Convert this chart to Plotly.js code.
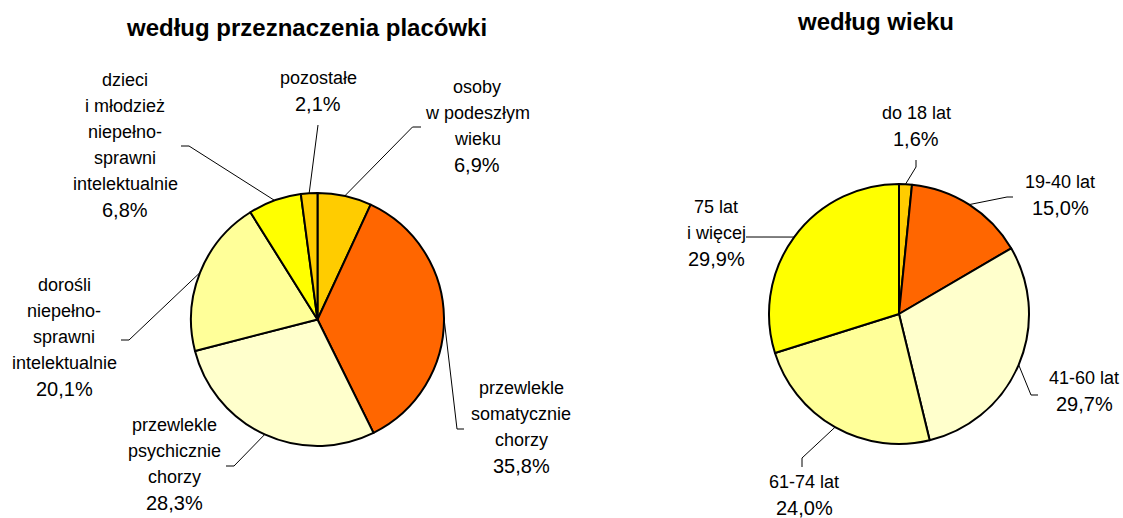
<!DOCTYPE html>
<html><head><meta charset="utf-8">
<script src="https://cdn.plot.ly/plotly-3.0.1.min.js"></script>
<style>html,body{margin:0;padding:0;background:#fff;} #chart{width:1123px;height:518px;}</style>
</head><body><div id="chart"></div>
<script>
// ---- data ----
const titles = ['według przeznaczenia placówki', 'według wieku'];
const facilityLabels = ['osoby\nw podeszłym\nwieku', 'przewlekle\nsomatycznie\nchorzy', 'przewlekle\npsychicznie\nchorzy', 'dorośli\nniepełno-\nsprawni\nintelektualnie', 'dzieci\ni młodzież\nniepełno-\nsprawni\nintelektualnie', 'pozostałe'];
const facilityValues = [6.9, 35.8, 28.3, 20.1, 6.8, 2.1];
const ageLabels = ['do 18 lat', '19-40 lat', '41-60 lat', '61-74 lat', '75 lat\ni więcej'];
const ageValues = [1.6, 15.0, 29.7, 24.0, 29.9];

// ---- styles / layout ----
const W = 1123, H = 518;
const facilityColors = ['#FFCC00', '#FF6600', '#FFFFCC', '#FFFF99', '#FFFF00', '#FFCC00'];
const ageColors = ['#FFCC00', '#FF6600', '#FFFFCC', '#FFFF99', '#FFFF00'];
const pies = [
  {cx: 317.5, cy: 319.5, r: 126.5, title: {x: 306, y: 27},
   labels: [
     {x: 477, y: 87, elbow: [412.5, 127], end: [421, 127]},
     {x: 521, y: 388, elbow: [457, 429], end: [464, 429]},
     {x: 174, y: 425, elbow: [234, 466], end: [226, 466]},
     {x: 64, y: 285, elbow: [129, 340], end: [121, 340]},
     {x: 125, y: 80, elbow: [189, 146], end: [181, 146]},
     {x: 318, y: 78, elbow: null, end: [318, 125]}
   ]},
  {cx: 899, cy: 314, r: 130, title: {x: 875, y: 21},
   labels: [
     {x: 916, y: 113, elbow: [916, 167], end: [916, 160]},
     {x: 1060, y: 182, elbow: [1007, 197], end: [1013, 197]},
     {x: 1084, y: 378, elbow: [1031, 395], end: [1038, 395]},
     {x: 804, y: 482, elbow: [802, 458], end: [802, 467]},
     {x: 716, y: 207, elbow: [750, 237], end: [746, 237]}
   ]}
];
const FONT = 'Liberation Sans, Arial, sans-serif';
const LINE_H = 26;

const px = x => x / W;
const py = y => 1 - y / H;
const fmt = v => v.toFixed(1).replace('.', ',') + '%';

const series = [
  {labels: facilityLabels, values: facilityValues, colors: facilityColors},
  {labels: ageLabels, values: ageValues, colors: ageColors}
];

const data = [], annotations = [], shapes = [];
series.forEach((s, k) => {
  const p = pies[k];
  data.push({
    type: 'pie',
    labels: s.labels.map(l => l.replace(/\n/g, ' ')),
    values: s.values,
    sort: false,
    direction: 'clockwise',
    rotation: 0,
    textinfo: 'none',
    hoverinfo: 'label+value',
    marker: {colors: s.colors, line: {color: '#000000', width: 2}},
    domain: {x: [px(p.cx - p.r), px(p.cx + p.r)], y: [py(p.cy + p.r), py(p.cy - p.r)]},
    showlegend: false
  });
  annotations.push({
    text: '<b>' + titles[k] + '</b>', xref: 'paper', yref: 'paper',
    x: px(p.title.x), y: py(p.title.y), xanchor: 'center', yanchor: 'middle',
    showarrow: false, font: {family: FONT, size: 24, color: '#000'}
  });
  const total = s.values.reduce((a, b) => a + b, 0);
  let cum = 0;
  s.values.forEach((v, i) => {
    const mid = (cum + v / 2) / total * 2 * Math.PI;
    cum += v;
    const sx = p.cx + p.r * Math.sin(mid), sy = p.cy - p.r * Math.cos(mid);
    const L = p.labels[i];
    const lineStyle = {color: '#000000', width: 1};
    if (L.elbow) {
      shapes.push({type: 'line', xref: 'paper', yref: 'paper', x0: px(sx), y0: py(sy), x1: px(L.elbow[0]), y1: py(L.elbow[1]), line: lineStyle});
      shapes.push({type: 'line', xref: 'paper', yref: 'paper', x0: px(L.elbow[0]), y0: py(L.elbow[1]), x1: px(L.end[0]), y1: py(L.end[1]), line: lineStyle});
    } else {
      shapes.push({type: 'line', xref: 'paper', yref: 'paper', x0: px(sx), y0: py(sy), x1: px(L.end[0]), y1: py(L.end[1]), line: lineStyle});
    }
    const lines = s.labels[i].split('\n');
    lines.forEach((t, j) => {
      annotations.push({text: t, xref: 'paper', yref: 'paper', x: px(L.x), y: py(L.y + j * LINE_H),
        xanchor: 'center', yanchor: 'middle', showarrow: false, font: {family: FONT, size: 18, color: '#000'}});
    });
    annotations.push({text: fmt(v), xref: 'paper', yref: 'paper', x: px(L.x), y: py(L.y + lines.length * LINE_H),
      xanchor: 'center', yanchor: 'middle', showarrow: false, font: {family: FONT, size: 20, color: '#000'}});
  });
});

const layout = {
  width: W, height: H, autosize: false,
  margin: {l: 0, r: 0, t: 0, b: 0, pad: 0},
  paper_bgcolor: '#ffffff', plot_bgcolor: '#ffffff',
  showlegend: false,
  annotations: annotations, shapes: shapes
};
Plotly.newPlot('chart', data, layout, {displayModeBar: false, staticPlot: true});
</script>
</body></html>
